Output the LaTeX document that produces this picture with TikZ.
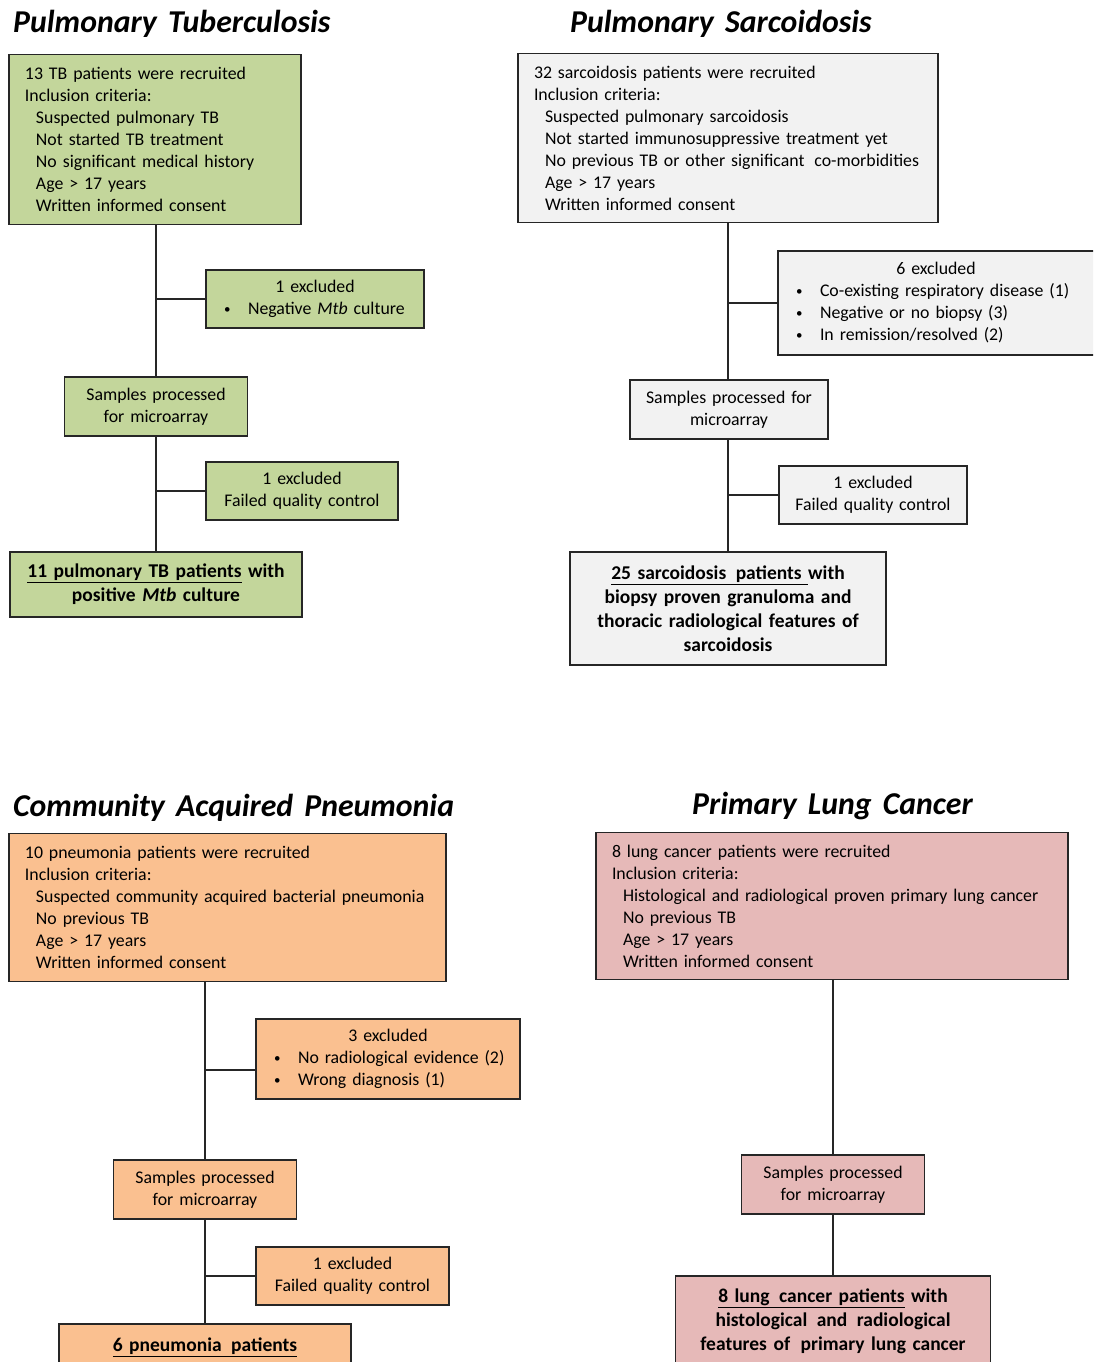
\documentclass[tikz,border=0pt]{standalone}
\usepackage{fontspec}
\setmainfont{Carlito}
\usetikzlibrary{calc}
\definecolor{tbgreen}{HTML}{C3D69B}
\definecolor{scgray}{HTML}{F2F2F2}
\definecolor{pnorange}{HTML}{FAC090}
\definecolor{lcpink}{HTML}{E6B9B8}
\newcommand\lvA{\hspace*{16pt}}
\newcommand\lvB{\hspace*{27pt}}
\newcommand\bul{\hspace*{18pt}\makebox[24pt][l]{\raisebox{1.5pt}{\fontsize{13}{13}\selectfont\textbullet}}}
\newcommand\ctr[1]{\makebox[\linewidth]{#1}}
\begin{document}
\begin{tikzpicture}[x=1pt,y=-1pt,
  box/.style={draw=black!85, line width=1.6pt, inner xsep=0pt, inner ysep=0pt,
    font=\fontsize{17.8}{22}\selectfont},
  leftbox/.style={box, align=left},
  midbox/.style={box, align=center},
  finalbox/.style={box, align=center, font=\fontsize{19.5}{24}\selectfont\bfseries},
  sz/.style 2 args={minimum width=#1, minimum height=#2, text width=#1},
  title/.style={anchor=base west, inner sep=0pt,
    font=\fontsize{31.8}{36}\selectfont\bfseries\itshape},
  link/.style={line width=1.6pt, draw=black!85},
]
\useasboundingbox (0,0) rectangle (1093,1362);
\clip (0,0) rectangle (1093,1362);

% ---------------- Pulmonary Tuberculosis ----------------
\node[title] (tbtitle) at (13,33) {Pulmonary\hspace{4pt} Tuberculosis};
\node[leftbox, sz={292pt}{170pt}, fill=tbgreen] (tbmain) at (155,139.5) {%
  \lvA 13 TB patients were recruited\\
  \lvA Inclusion criteria:\\
  \lvB Suspected pulmonary TB\\
  \lvB Not started TB treatment\\
  \lvB No significant medical history\\
  \lvB Age > 17 years\\
  \lvB Written informed consent};
\node[leftbox, sz={218pt}{58pt}, fill=tbgreen] (tbex1) at (315,299) {%
  \ctr{1 excluded}\\
  \bul Negative \textit{Mtb} culture};
\node[midbox, sz={183pt}{59pt}, fill=tbgreen] (tbsamp) at (156,406.5) {%
  Samples processed\\for microarray};
\node[midbox, sz={192pt}{58pt}, fill=tbgreen] (tbex2) at (302,491) {%
  1 excluded\\Failed quality control};
\node[finalbox, sz={292pt}{65pt}, fill=tbgreen] (tbfinal) at (156,584.5) {%
  \underline{11 pulmonary TB patients} with\\positive \textit{Mtb} culture};
\draw[link] (tbsamp.north |- tbmain.south) -- (tbsamp.north);
\draw[link] (tbsamp.south) -- (tbfinal.north);
\draw[link] (tbex1.west) -- (tbsamp.center |- tbex1.west);
\draw[link] (tbex2.west) -- (tbsamp.center |- tbex2.west);

% ---------------- Pulmonary Sarcoidosis ----------------
\node[title] (sctitle) at (570,33) {Pulmonary\hspace{4pt} Sarcoidosis};
\node[leftbox, sz={420pt}{169pt}, fill=scgray] (scmain) at (728,138) {%
  \lvA 32 sarcoidosis patients were recruited\\
  \lvA Inclusion criteria:\\
  \lvB Suspected pulmonary sarcoidosis\\
  \lvB Not started immunosuppressive treatment yet\\
  \lvB No previous TB or other significant\hspace{4pt} co-morbidities\\
  \lvB Age > 17 years\\
  \lvB Written informed consent};
\node[leftbox, sz={322pt}{104pt}, fill=scgray] (scex1) at (939,303) {%
  \ctr{\hspace*{-6pt}6 excluded}\\
  \bul Co-existing respiratory disease (1)\\
  \bul Negative or no biopsy (3)\\
  \bul In remission/resolved (2)};
\node[midbox, sz={198pt}{59pt}, fill=scgray] (scsamp) at (729,409.5) {%
  Samples processed for\\microarray};
\node[midbox, sz={188pt}{58pt}, fill=scgray] (scex2) at (873,495) {%
  1 excluded\\Failed quality control};
\node[finalbox, sz={316pt}{113pt}, fill=scgray] (scfinal) at (728,608.5) {%
  \underline{25 sarcoidosis\hspace{3pt} patients\ }with\\
  biopsy proven granuloma and\\
  thoracic radiological features of\\
  sarcoidosis};
\draw[link] (scmain.south) -- (scmain.south |- scsamp.north);
\draw[link] (scmain.south |- scsamp.south) -- (scfinal.north);
\draw[link] (scex1.west) -- (scmain.south |- scex1.west);
\draw[link] (scex2.west) -- (scmain.south |- scex2.west);

% ---------------- Community Acquired Pneumonia ----------------
\node[title] (pntitle) at (13,816) {Community\hspace{4pt} Acquired\hspace{4pt} Pneumonia};
\node[leftbox, sz={437pt}{148pt}, fill=pnorange] (pnmain) at (227.5,907.5) {%
  \lvA 10 pneumonia patients were recruited\\
  \lvA Inclusion criteria:\\
  \lvB Suspected community acquired bacterial pneumonia\\
  \lvB No previous TB\\
  \lvB Age > 17 years\\
  \lvB Written informed consent};
\node[leftbox, sz={264pt}{80pt}, fill=pnorange] (pnex1) at (388,1059) {%
  \ctr{3 excluded}\\
  \bul No radiological evidence (2)\\
  \bul Wrong diagnosis (1)};
\node[midbox, sz={183pt}{59pt}, fill=pnorange] (pnsamp) at (205,1189.5) {%
  Samples processed\\for microarray};
\node[midbox, sz={193pt}{58pt}, fill=pnorange] (pnex2) at (352.5,1276) {%
  1 excluded\\Failed quality control};
\node[finalbox, sz={292pt}{46pt}, fill=pnorange] (pnfinal) at (205,1347) {%
  \underline{6 pneumonia\hspace{3pt} patients}};
\coordinate (pnjoin) at ([yshift=-11pt]pnex1.west);
\draw[link] (pnsamp.north |- pnmain.south) -- (pnsamp.north);
\draw[link] (pnsamp.south) -- (pnfinal.north);
\draw[link] (pnjoin) -- (pnsamp.center |- pnjoin);
\draw[link] (pnex2.west) -- (pnsamp.center |- pnex2.west);

% ---------------- Primary Lung Cancer ----------------
\node[title] (lctitle) at (692,814) {Primary\hspace{4pt} Lung\hspace{4pt} Cancer};
\node[leftbox, sz={472pt}{147pt}, fill=lcpink] (lcmain) at (832,906) {%
  \lvA 8 lung cancer patients were recruited\\
  \lvA Inclusion criteria:\\
  \lvB Histological and radiological proven primary lung cancer\\
  \lvB No previous TB\\
  \lvB Age > 17 years\\
  \lvB Written informed consent};
\node[midbox, sz={183pt}{59pt}, fill=lcpink] (lcsamp) at (833,1184.5) {%
  Samples processed\\for microarray};
\node[finalbox, sz={315pt}{91pt}, fill=lcpink] (lcfinal) at (833,1321.5) {%
  \underline{8 lung\hspace{3pt} cancer patients} with\\
  histological\hspace{3pt} and\hspace{3pt} radiological\\
  features of\hspace{4pt} primary lung cancer};
\draw[link] (lcsamp.north |- lcmain.south) -- (lcsamp.north);
\draw[link] (lcsamp.south) -- (lcfinal.north);
\end{tikzpicture}
\end{document}
